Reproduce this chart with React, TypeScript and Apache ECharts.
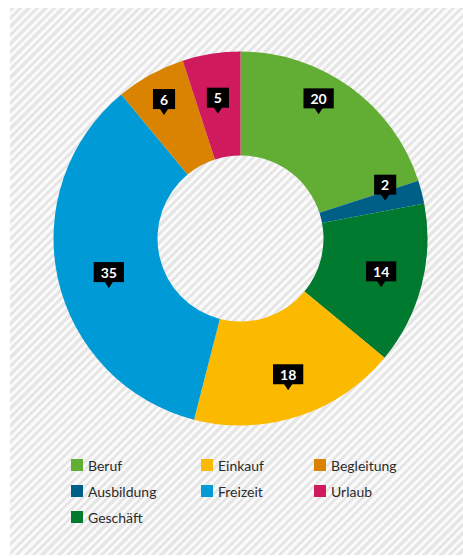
import React, { useEffect, useRef } from "react";
import * as echarts from "echarts";

const categories = ["Beruf", "Ausbildung", "Geschäft", "Einkauf", "Freizeit", "Begleitung", "Urlaub"];
const values = [20, 2, 14, 18, 35, 6, 5];
const colors = ["#62ae34", "#005f87", "#007a2f", "#fbb900", "#009bd6", "#d98300", "#cf1b5e"];
// small label nudges (style only), [dx, dy] in px
const labelNudge = [[-3, -24], [11, -15], [7, 3], [5, 9], [3, 8], [-10, -14], [-1, 0]];
const legendColumns = [
  ["Beruf", "Ausbildung", "Geschäft"],
  ["Einkauf", "Freizeit"],
  ["Begleitung", "Urlaub"],
];
const legendLefts = [71, 201, 314];

const arrowSvg =
  "data:image/svg+xml;charset=utf-8," +
  encodeURIComponent(
    "<svg xmlns='http://www.w3.org/2000/svg' width='12' height='9' viewBox='0 0 12 9'><polygon points='0,0 12,0 6,9' fill='#000000'/></svg>"
  );

export default function App() {
  const ref = useRef<HTMLDivElement>(null);
  useEffect(() => {
    if (!ref.current) return;
    const chart = echarts.init(ref.current, undefined, { renderer: "svg" });
    const data = categories.map((name, i) => ({
      name,
      value: values[i],
      itemStyle: { color: colors[i] },
      label: { offset: labelNudge[i] },
    }));
    chart.setOption({
      animation: false,
      backgroundColor: "transparent",
      legend: legendColumns.map((col, k) => ({
        data: col,
        orient: "vertical",
        left: legendLefts[k],
        top: 458,
        padding: 0,
        itemGap: 12,
        itemWidth: 12,
        itemHeight: 12,
        icon: "rect",
        selectedMode: false,
        textStyle: { fontFamily: "Lato", fontSize: 14, color: "#2b2b2b" },
      })),
      series: [
        {
          type: "pie",
          center: [240.5, 238.5],
          radius: [83, 187],
          startAngle: 90,
          clockwise: true,
          silent: true,
          emphasis: { disabled: true },
          itemStyle: { borderWidth: 0 },
          labelLine: { show: false },
          label: {
            show: true,
            position: "inside",
            formatter: (p: any) => `{b|${p.value}}\n{a|}`,
            rich: {
              b: {
                backgroundColor: "#000000",
                color: "#ffffff",
                fontFamily: "Lato",
                fontWeight: "bold",
                fontSize: 14,
                lineHeight: 14,
                padding: [3, 7, 3, 7],
                align: "center",
              },
              a: {
                backgroundColor: { image: arrowSvg },
                width: 12,
                height: 9,
                lineHeight: 9,
                align: "center",
              },
            },
          },
          data,
        },
      ],
    });
    return () => chart.dispose();
  }, []);
  return (
    <>
      <div
        style={{
          position: "absolute",
          left: 10,
          top: 8,
          width: 453,
          height: 547,
          background:
            "repeating-linear-gradient(135deg, #e6e6e6 0px, #e6e6e6 3px, #fafafa 3px, #fafafa 6px)",
        }}
      />
      <div ref={ref} style={{ position: "absolute", left: 0, top: 0, width: 463, height: 558 }} />
    </>
  );
}
